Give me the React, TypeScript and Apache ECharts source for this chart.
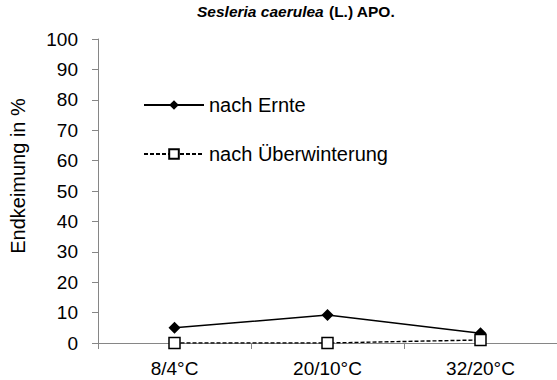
import React, { useEffect, useRef } from "react";
import * as echarts from "echarts";

const categories = ["8/4°C", "20/10°C", "32/20°C"];
const nachErnte = [5, 9.2, 3.2];
const nachUeberwinterung = [0, 0, 1];
const yTicks = { min: 0, max: 100, interval: 10 };

export default function App() {
  const ref = useRef<HTMLDivElement>(null);
  useEffect(() => {
    if (!ref.current) return;
    const chart = echarts.init(ref.current, undefined, { renderer: "svg" });
    const font = "'Liberation Sans', Arial, sans-serif";
    chart.setOption({
      animation: false,
      textStyle: { fontFamily: font },
      title: {
        text: "{i|Sesleria caerulea} {b|(L.) APO.}",
        left: 291,
        textAlign: "center",
        top: -3,
        textStyle: {
          rich: {
            i: { fontFamily: font, fontSize: 15.5, fontWeight: "bold", fontStyle: "italic", color: "#000" },
            b: { fontFamily: font, fontSize: 15.5, fontWeight: "bold", color: "#000" },
          },
        },
      },
      legend: {
        orient: "vertical",
        left: 138,
        top: 90,
        itemWidth: 60,
        itemHeight: 12,
        itemGap: 29,
        textStyle: { fontFamily: font, fontSize: 20, color: "#000" },
        data: ["nach Ernte", "nach Überwinterung"],
      },
      grid: { left: 97, top: 39, width: 471, height: 304 },
      xAxis: {
        type: "category",
        data: categories,
        boundaryGap: true,
        axisLine: { lineStyle: { color: "#868686", width: 1 } },
        axisTick: { show: true, length: 6, lineStyle: { color: "#868686" } },
        axisLabel: { color: "#000", fontSize: 19, fontFamily: font, margin: 16 },
      },
      yAxis: {
        type: "value",
        min: yTicks.min,
        max: yTicks.max,
        interval: yTicks.interval,
        name: "Endkeimung in %",
        nameLocation: "middle",
        nameGap: 70,
        nameTextStyle: { fontSize: 20, color: "#000", fontFamily: font, padding: [0, 0, 0, 30] },
        axisLine: { show: true, lineStyle: { color: "#868686", width: 1 } },
        axisTick: { show: true, length: 6, lineStyle: { color: "#868686" } },
        splitLine: { show: false },
        axisLabel: { color: "#000", fontSize: 19, fontFamily: font, margin: 20 },
      },
      series: [
        {
          name: "nach Ernte",
          type: "line",
          data: nachErnte,
          symbol: "diamond",
          symbolSize: 12,
          itemStyle: { color: "#000" },
          lineStyle: { color: "#000", width: 1.5, type: "solid" },
          z: 2,
        },
        {
          name: "nach Überwinterung",
          type: "line",
          data: nachUeberwinterung,
          symbol: "rect",
          symbolSize: 11,
          itemStyle: { color: "#fff", borderColor: "#000", borderWidth: 1.5 },
          lineStyle: { color: "#000", width: 1.4, type: [4, 2] },
          z: 3,
        },
      ],
    });
    return () => chart.dispose();
  }, []);
  return <div ref={ref} style={{ width: 557, height: 380, position: "absolute", left: 0, top: 0 }} />;
}
